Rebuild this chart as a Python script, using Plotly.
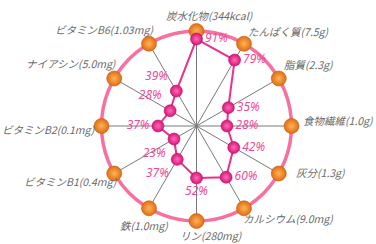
import math
import plotly.graph_objects as go

# ---- data ----
nutrients = ["炭水化物(344kcal)", "たんぱく質(7.5g)", "脂質(2.3g)", "食物繊維(1.0g)",
             "灰分(1.3g)", "カルシウム(9.0mg)", "リン(280mg)", "鉄(1.0mg)",
             "ビタミンB1(0.4mg)", "ビタミンB2(0.1mg)", "ナイアシン(5.0mg)", "ビタミンB6(1.03mg)"]
percent = [91, 79, 35, 28, 42, 60, 52, 37, 23, 37, 28, 39]
full_scale = [100] * 12

# ---- layout geometry ----
W, H = 376, 244
CX, CY, R = 196.5, 126, 95
R_MIN, R_MAX = -6, 100

pct_pos = ["middle right", "middle right", "middle right", "middle right", "middle right",
           "middle right", "bottom center", "bottom left", "bottom left", "middle left",
           "top left", "top left"]
# label offsets from outer ball (dx, dy, xanchor)
label_off = [(13, -16, "center"), (2, -12, "left"), (3, -14, "left"), (9, -6, "left"),
             (15, -1, "left"), (-3, 10, "left"), (14, 14, "center"), (-5, 17, "center"),
             (5, 8, "right"), (-4, 3, "right"), (4, -15, "right"), (6, -14, "right")]

fig = go.Figure()

theta_closed = nutrients + [nutrients[0]]
fig.add_trace(go.Scatterpolar(
    r=percent + [percent[0]], theta=theta_closed, mode="lines",
    line=dict(color="#e8318a", width=2), cliponaxis=False, hoverinfo="skip"))

fig.add_trace(go.Scatterpolar(
    r=full_scale, theta=nutrients, mode="markers", cliponaxis=False,
    marker=dict(size=15, color="#e06d16",
                gradient=dict(type="radial", color="#ffb455"),
                line=dict(width=0.6, color="#c25a0c"))))

fig.add_trace(go.Scatterpolar(
    r=percent, theta=nutrients, mode="markers+text", cliponaxis=False,
    text=[f"{p}%" for p in percent], textposition=pct_pos,
    textfont=dict(family="Noto Sans", size=12, color="#ee4c98", style="italic"),
    marker=dict(size=12, color="#d8157a",
                gradient=dict(type="radial", color="#ff6cb4"),
                line=dict(width=0.6, color="#b80c64"))))

annotations = []
for i, name in enumerate(nutrients):
    ang = math.radians(i * 360 / len(nutrients))
    bx = CX + R * math.sin(ang)
    by = CY - R * math.cos(ang)
    dx, dy, xa = label_off[i]
    annotations.append(dict(
        x=(bx + dx) / W, y=1 - (by + dy) / H, xref="paper", yref="paper",
        xanchor=xa, yanchor="middle", showarrow=False, text=name,
        font=dict(family="Noto Sans CJK JP", size=10.5, color="#6a6a6a", style="italic")))

fig.update_layout(
    width=W, height=H, margin=dict(l=0, r=0, t=0, b=0),
    paper_bgcolor="white", showlegend=False, annotations=annotations,
    polar=dict(
        domain=dict(x=[(CX - R) / W, (CX + R) / W], y=[1 - (CY + R) / H, 1 - (CY - R) / H]),
        bgcolor="white",
        radialaxis=dict(range=[R_MIN, R_MAX], visible=True, showgrid=False,
                        showticklabels=False, showline=False, ticks="", layer="below traces"),
        angularaxis=dict(direction="clockwise", rotation=90, showticklabels=False, ticks="",
                         showgrid=True, gridcolor="#7a7a7a", gridwidth=1,
                         showline=True, linecolor="#f7709f", linewidth=3.5,
                         layer="below traces"),
    ),
)

fig.write_html("out.html")
